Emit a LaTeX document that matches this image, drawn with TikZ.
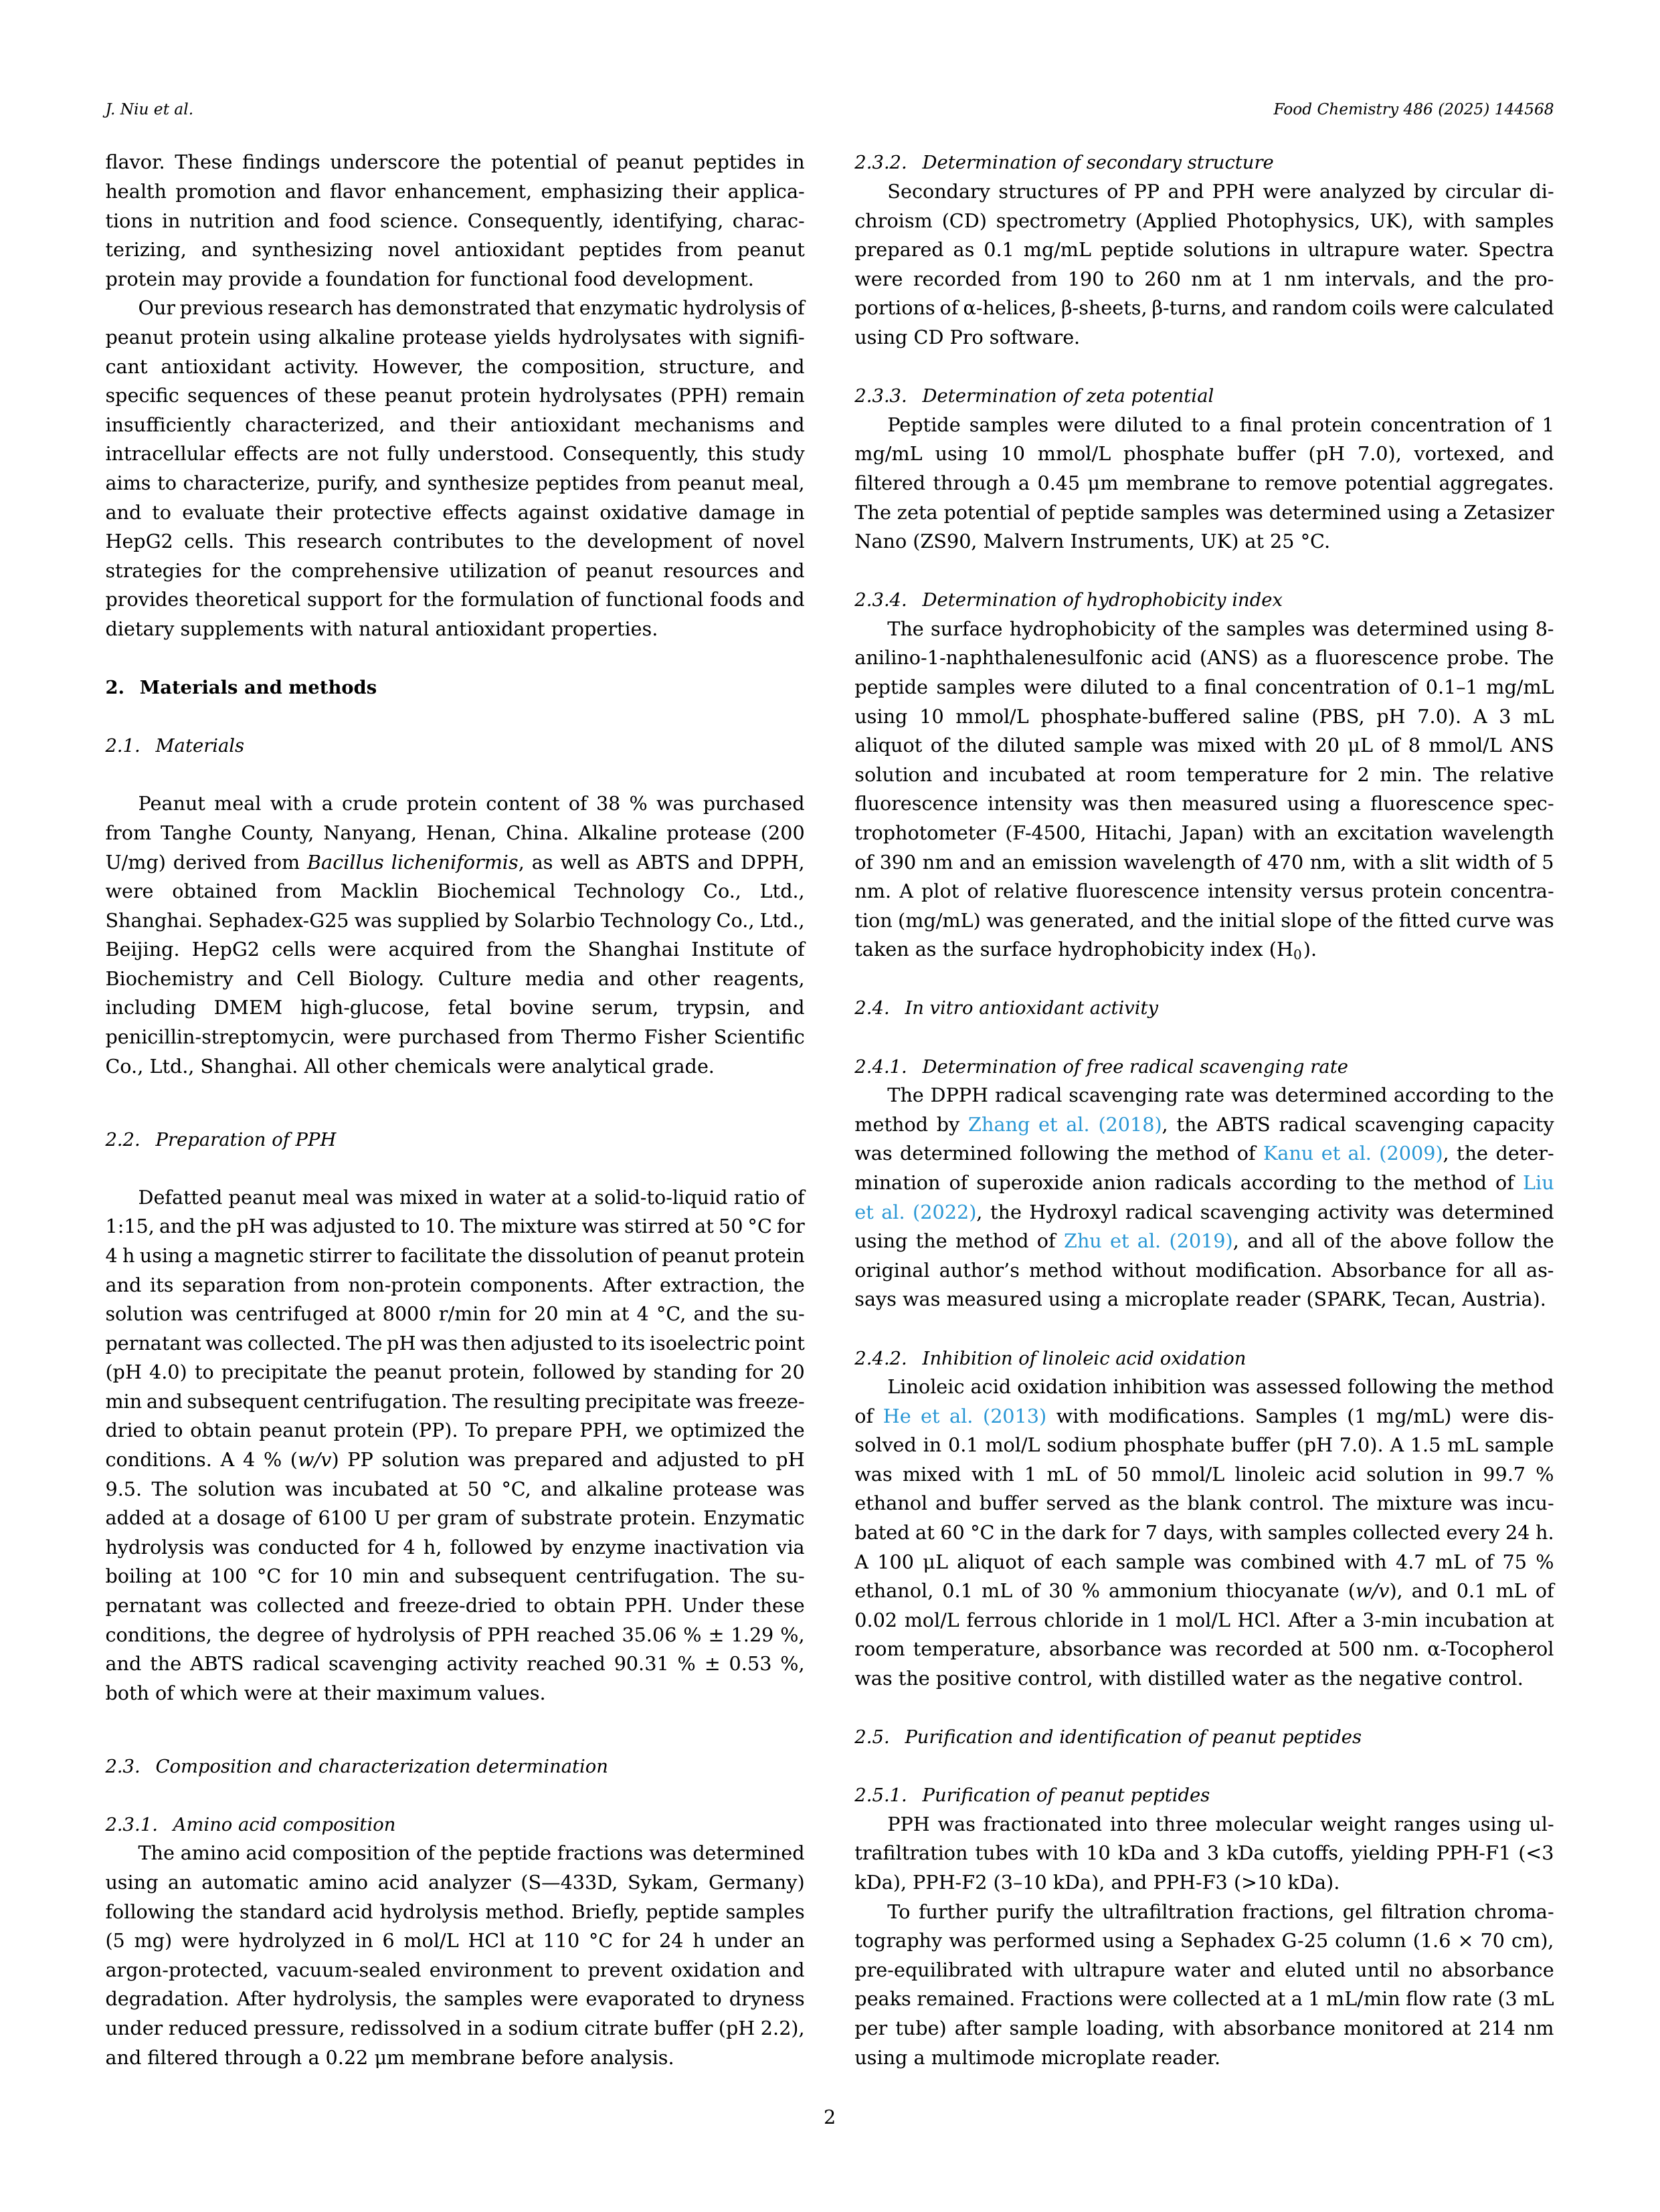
\documentclass[tikz,border=0pt]{standalone}
\usepackage{fontspec}
\setmainfont{DejaVu Serif}
\usepackage{graphicx}

\definecolor{linkblue}{RGB}{41,151,213}
\newlength{\colw}\setlength{\colw}{88.5mm}
\newcommand{\bodyfont}{\fontsize{6.9pt}{10.5pt}\selectfont}
\newcommand{\headfont}{\fontsize{6.6pt}{10.5pt}\selectfont\itshape}
\newcommand{\secfont}{\fontsize{6.6pt}{10.5pt}\selectfont\bfseries}
\newcommand{\runfont}{\fontsize{5.6pt}{7pt}\selectfont\itshape}
\newcommand{\indt}{\hspace{11.8pt}}
\newcommand{\numgap}{\hspace{5.5pt}}
% justified line, squeezed a little when it would stick out
\newcommand{\jl}[1]{\setbox0=\hbox to\colw{#1}\ifnum\badness>100000 \hbox{\resizebox{\colw}{\height}{#1}}\else\box0\fi}
% last line of a paragraph
\newcommand{\el}[1]{\hbox{#1}}
\newcommand{\lnk}[1]{\textcolor{linkblue}{#1}}
\hbadness=10000
\hfuzz=200pt
\frenchspacing

\begin{document}
\begin{tikzpicture}[
    para/.style={anchor=base west, inner sep=0pt, outer sep=0pt, font=\bodyfont},
    subhead/.style={para, font=\headfont},
    sechead/.style={para, font=\secfont},
    running/.style={inner sep=0pt, outer sep=0pt, font=\runfont}
  ]
  \fill[white] (0,0) rectangle (210mm,-280mm);
  \useasboundingbox (0,0) rectangle (210mm,-280mm);

  % Running head and folio
  \node[running, anchor=base west] (runleft) at (13.34mm,-14.54mm) {J. Niu et al.};
  \node[running, anchor=base east] (runright) at (196.66mm,-14.54mm) {Food Chemistry 486 (2025) 144568};
  \node[para, anchor=base] (folio) at (105mm,-268.9mm) {2};

  \begin{scope}[shift={(0,-21.42mm)}, x=1mm, y=-10.5pt]
    % Left column
    \node[para] (intro) at (13.34,0) {\vtop{%
      \jl{flavor. These findings underscore the potential of peanut peptides in}
      \jl{health promotion and flavor enhancement, emphasizing their applica-}
      \jl{tions in nutrition and food science. Consequently, identifying, charac-}
      \jl{terizing, and synthesizing novel antioxidant peptides from peanut}
      \el{protein may provide a foundation for functional food development.}}};
    \node[para] (prevwork) at (13.34,5) {\vtop{%
      \jl{\indt Our previous research has demonstrated that enzymatic hydrolysis of}
      \jl{peanut protein using alkaline protease yields hydrolysates with signifi-}
      \jl{cant antioxidant activity. However, the composition, structure, and}
      \jl{specific sequences of these peanut protein hydrolysates (PPH) remain}
      \jl{insufficiently characterized, and their antioxidant mechanisms and}
      \jl{intracellular effects are not fully understood. Consequently, this study}
      \jl{aims to characterize, purify, and synthesize peptides from peanut meal,}
      \jl{and to evaluate their protective effects against oxidative damage in}
      \jl{HepG2 cells. This research contributes to the development of novel}
      \jl{strategies for the comprehensive utilization of peanut resources and}
      \jl{provides theoretical support for the formulation of functional foods and}
      \el{dietary supplements with natural antioxidant properties.}}};

    \node[sechead] (secmm) at (13.34,18) {2.\numgap Materials and methods};
    \node[subhead] (submat) at (13.34,20) {2.1.\numgap Materials};
    \node[para] (matl) at (13.34,22) {\vtop{%
      \jl{\indt Peanut meal with a crude protein content of 38 \% was purchased}
      \jl{from Tanghe County, Nanyang, Henan, China. Alkaline protease (200}
      \jl{U/mg) derived from \textit{Bacillus licheniformis}, as well as ABTS and DPPH,}
      \jl{were obtained from Macklin Biochemical Technology Co., Ltd.,}
      \jl{Shanghai. Sephadex-G25 was supplied by Solarbio Technology Co., Ltd.,}
      \jl{Beijing. HepG2 cells were acquired from the Shanghai Institute of}
      \jl{Biochemistry and Cell Biology. Culture media and other reagents,}
      \jl{including DMEM high-glucose, fetal bovine serum, trypsin, and}
      \jl{penicillin-streptomycin, were purchased from Thermo Fisher Scientific}
      \el{Co., Ltd., Shanghai. All other chemicals were analytical grade.}}};

    \node[subhead] (subprep) at (13.34,33.5) {2.2.\numgap Preparation of PPH};
    \node[para] (prep) at (13.34,35.5) {\vtop{%
      \jl{\indt Defatted peanut meal was mixed in water at a solid-to-liquid ratio of}
      \jl{1:15, and the pH was adjusted to 10. The mixture was stirred at 50 °C for}
      \jl{4 h using a magnetic stirrer to facilitate the dissolution of peanut protein}
      \jl{and its separation from non-protein components. After extraction, the}
      \jl{solution was centrifuged at 8000 r/min for 20 min at 4 °C, and the su-}
      \jl{pernatant was collected. The pH was then adjusted to its isoelectric point}
      \jl{(pH 4.0) to precipitate the peanut protein, followed by standing for 20}
      \jl{min and subsequent centrifugation. The resulting precipitate was freeze-}
      \jl{dried to obtain peanut protein (PP). To prepare PPH, we optimized the}
      \jl{conditions. A 4 \% (\textit{w/v}) PP solution was prepared and adjusted to pH}
      \jl{9.5. The solution was incubated at 50 °C, and alkaline protease was}
      \jl{added at a dosage of 6100 U per gram of substrate protein. Enzymatic}
      \jl{hydrolysis was conducted for 4 h, followed by enzyme inactivation via}
      \jl{boiling at 100 °C for 10 min and subsequent centrifugation. The su-}
      \jl{pernatant was collected and freeze-dried to obtain PPH. Under these}
      \jl{conditions, the degree of hydrolysis of PPH reached 35.06 \% ± 1.29 \%,}
      \jl{and the ABTS radical scavenging activity reached 90.31 \% ± 0.53 \%,}
      \el{both of which were at their maximum values.}}};

    \node[subhead] (subchar) at (13.34,55) {2.3.\numgap Composition and characterization determination};
    \node[subhead] (subaa) at (13.34,57) {2.3.1.\numgap Amino acid composition};
    \node[para] (aacomp) at (13.34,58) {\vtop{%
      \jl{\indt The amino acid composition of the peptide fractions was determined}
      \jl{using an automatic amino acid analyzer (S—433D, Sykam, Germany)}
      \jl{following the standard acid hydrolysis method. Briefly, peptide samples}
      \jl{(5 mg) were hydrolyzed in 6 mol/L HCl at 110 °C for 24 h under an}
      \jl{argon-protected, vacuum-sealed environment to prevent oxidation and}
      \jl{degradation. After hydrolysis, the samples were evaporated to dryness}
      \jl{under reduced pressure, redissolved in a sodium citrate buffer (pH 2.2),}
      \el{and filtered through a 0.22 μm membrane before analysis.}}};

    % Right column
    \node[subhead] (subcd) at (108.16,0) {2.3.2.\numgap Determination of secondary structure};
    \node[para] (cdtext) at (108.16,1) {\vtop{%
      \jl{\indt Secondary structures of PP and PPH were analyzed by circular di-}
      \jl{chroism (CD) spectrometry (Applied Photophysics, UK), with samples}
      \jl{prepared as 0.1 mg/mL peptide solutions in ultrapure water. Spectra}
      \jl{were recorded from 190 to 260 nm at 1 nm intervals, and the pro-}
      \jl{portions of α-helices, β-sheets, β-turns, and random coils were calculated}
      \el{using CD Pro software.}}};

    \node[subhead] (subzeta) at (108.16,8) {2.3.3.\numgap Determination of zeta potential};
    \node[para] (zeta) at (108.16,9) {\vtop{%
      \jl{\indt Peptide samples were diluted to a final protein concentration of 1}
      \jl{mg/mL using 10 mmol/L phosphate buffer (pH 7.0), vortexed, and}
      \jl{filtered through a 0.45 μm membrane to remove potential aggregates.}
      \jl{The zeta potential of peptide samples was determined using a Zetasizer}
      \el{Nano (ZS90, Malvern Instruments, UK) at 25 °C.}}};

    \node[subhead] (subhyd) at (108.16,15) {2.3.4.\numgap Determination of hydrophobicity index};
    \node[para] (hydro) at (108.16,16) {\vtop{%
      \jl{\indt The surface hydrophobicity of the samples was determined using 8-}
      \jl{anilino-1-naphthalenesulfonic acid (ANS) as a fluorescence probe. The}
      \jl{peptide samples were diluted to a final concentration of 0.1–1 mg/mL}
      \jl{using 10 mmol/L phosphate-buffered saline (PBS, pH 7.0). A 3 mL}
      \jl{aliquot of the diluted sample was mixed with 20 μL of 8 mmol/L ANS}
      \jl{solution and incubated at room temperature for 2 min. The relative}
      \jl{fluorescence intensity was then measured using a fluorescence spec-}
      \jl{trophotometer (F-4500, Hitachi, Japan) with an excitation wavelength}
      \jl{of 390 nm and an emission wavelength of 470 nm, with a slit width of 5}
      \jl{nm. A plot of relative fluorescence intensity versus protein concentra-}
      \jl{tion (mg/mL) was generated, and the initial slope of the fitted curve was}
      \el{taken as the surface hydrophobicity index (H\textsubscript{0}).}}};

    \node[subhead] (subvitro) at (108.16,29) {2.4.\numgap In vitro antioxidant activity};
    \node[subhead] (subrad) at (108.16,31) {2.4.1.\numgap Determination of free radical scavenging rate};
    \node[para] (radical) at (108.16,32) {\vtop{%
      \jl{\indt The DPPH radical scavenging rate was determined according to the}
      \jl{method by \lnk{Zhang et al. (2018)}, the ABTS radical scavenging capacity}
      \jl{was determined following the method of \lnk{Kanu et al. (2009)}, the deter-}
      \jl{mination of superoxide anion radicals according to the method of \lnk{Liu}}
      \jl{\lnk{et al. (2022)}, the Hydroxyl radical scavenging activity was determined}
      \jl{using the method of \lnk{Zhu et al. (2019)}, and all of the above follow the}
      \jl{original author’s method without modification. Absorbance for all as-}
      \el{says was measured using a microplate reader (SPARK, Tecan, Austria).}}};

    \node[subhead] (sublin) at (108.16,41) {2.4.2.\numgap Inhibition of linoleic acid oxidation};
    \node[para] (linoleic) at (108.16,42) {\vtop{%
      \jl{\indt Linoleic acid oxidation inhibition was assessed following the method}
      \jl{of \lnk{He et al. (2013)} with modifications. Samples (1 mg/mL) were dis-}
      \jl{solved in 0.1 mol/L sodium phosphate buffer (pH 7.0). A 1.5 mL sample}
      \jl{was mixed with 1 mL of 50 mmol/L linoleic acid solution in 99.7 \%}
      \jl{ethanol and buffer served as the blank control. The mixture was incu-}
      \jl{bated at 60 °C in the dark for 7 days, with samples collected every 24 h.}
      \jl{A 100 μL aliquot of each sample was combined with 4.7 mL of 75 \%}
      \jl{ethanol, 0.1 mL of 30 \% ammonium thiocyanate (\textit{w/v}), and 0.1 mL of}
      \jl{0.02 mol/L ferrous chloride in 1 mol/L HCl. After a 3-min incubation at}
      \jl{room temperature, absorbance was recorded at 500 nm. α-Tocopherol}
      \el{was the positive control, with distilled water as the negative control.}}};

    \node[subhead] (subpur) at (108.16,54) {2.5.\numgap Purification and identification of peanut peptides};
    \node[subhead] (subpurpep) at (108.16,56) {2.5.1.\numgap Purification of peanut peptides};
    \node[para] (ultra) at (108.16,57) {\vtop{%
      \jl{\indt PPH was fractionated into three molecular weight ranges using ul-}
      \jl{trafiltration tubes with 10 kDa and 3 kDa cutoffs, yielding PPH-F1 (<3}
      \el{kDa), PPH-F2 (3–10 kDa), and PPH-F3 (>10 kDa).}}};
    \node[para] (gelfilt) at (108.16,60) {\vtop{%
      \jl{\indt To further purify the ultrafiltration fractions, gel filtration chroma-}
      \jl{tography was performed using a Sephadex G-25 column (1.6 × 70 cm),}
      \jl{pre-equilibrated with ultrapure water and eluted until no absorbance}
      \jl{peaks remained. Fractions were collected at a 1 mL/min flow rate (3 mL}
      \jl{per tube) after sample loading, with absorbance monitored at 214 nm}
      \el{using a multimode microplate reader.}}};
  \end{scope}
\end{tikzpicture}
\end{document}
